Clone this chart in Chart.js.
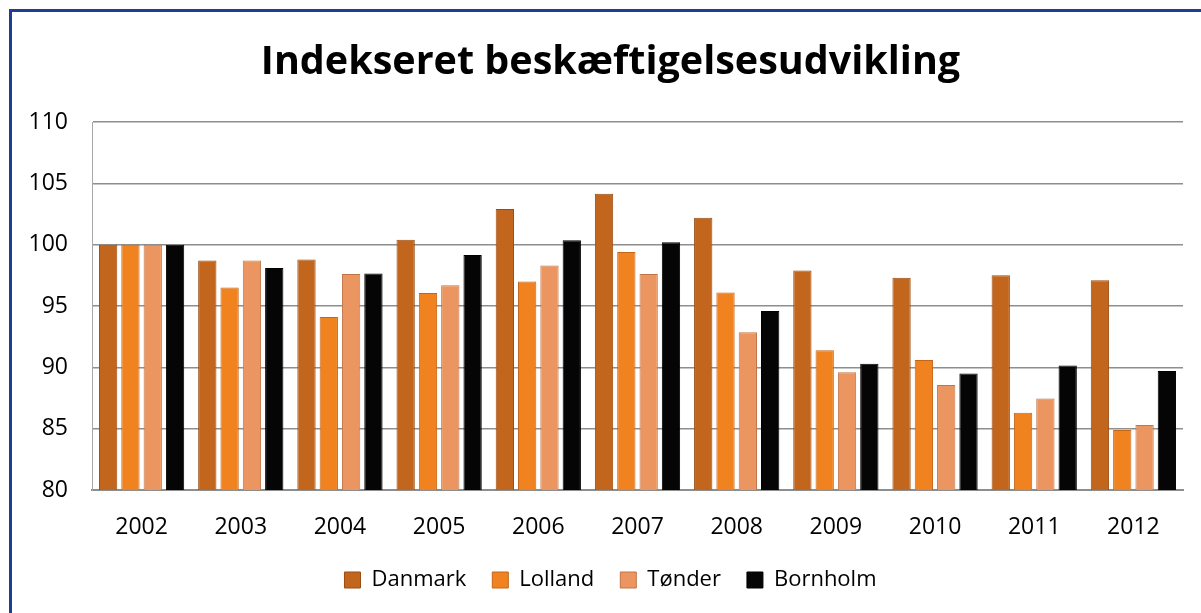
<!DOCTYPE html>
<html lang="da">
<head>
<meta charset="UTF-8">
<title>Indekseret beskæftigelsesudvikling</title>
<script src="https://cdn.jsdelivr.net/npm/chart.js"></script>
<style>
    html, body { margin: 0; padding: 0; background: #fff; overflow: hidden; }
    #frame { position: absolute; left: 9px; top: 9px; width: 1300px; height: 700px;
             border-left: 3px solid #1f3d96; border-top: 3px solid #1f3d96; }
    #wrap { position: absolute; left: 0; top: 0; width: 1201px; height: 613px; }
</style>
</head>
<body>
<div id="frame"></div>
<div id="wrap"><canvas id="myChart"></canvas></div>
<script>
    const years = ['2002', '2003', '2004', '2005', '2006', '2007', '2008', '2009', '2010', '2011', '2012'];
    const danmark  = [100, 98.7, 98.8, 100.4, 102.9, 104.15, 102.2, 97.9, 97.3, 97.5, 97.1];
    const lolland  = [100, 96.5, 94.1, 96.05, 97.0, 99.4, 96.1, 91.4, 90.6, 86.3, 84.9];
    const toender  = [100, 98.7, 97.6, 96.7, 98.3, 97.6, 92.85, 89.6, 88.55, 87.45, 85.3];
    const bornholm = [100, 98.1, 97.65, 99.15, 100.35, 100.2, 94.6, 90.3, 89.5, 90.15, 89.7];

    const font = "'Open Sans', sans-serif";

    function series(label, values, fill, edge) {
        return {
            label: label,
            data: values,
            backgroundColor: fill,
            borderColor: edge,
            borderWidth: 1,
            categoryPercentage: 0.9,
            barPercentage: 0.82
        };
    }

    const ctx = document.getElementById('myChart').getContext('2d');
    new Chart(ctx, {
        type: 'bar',
        data: {
            labels: years,
            datasets: [
                series('Danmark', danmark, '#c3661d', '#9a4d12'),
                series('Lolland', lolland, '#f0831f', '#c4661a'),
                series('Tønder', toender, '#eb9660', '#c07548'),
                series('Bornholm', bornholm, '#050505', '#000000')
            ]
        },
        options: {
            responsive: true,
            maintainAspectRatio: false,
            animation: false,
            layout: { padding: { left: 20, right: 0, top: 39, bottom: 20 } },
            plugins: {
                title: {
                    display: true,
                    text: 'Indekseret beskæftigelsesudvikling',
                    color: '#000',
                    font: { family: font, size: 39.5, weight: 'bold' },
                    padding: { top: 0, bottom: 35.6 }
                },
                legend: {
                    position: 'bottom',
                    maxHeight: 50,
                    labels: {
                        color: '#000',
                        font: { family: font, size: 22 },
                        boxWidth: 16,
                        boxHeight: 16,
                        padding: 26
                    }
                },
                tooltip: { enabled: false }
            },
            scales: {
                x: {
                    grid: { display: false },
                    border: { display: true, color: '#8e8e8e', width: 2 },
                    ticks: { color: '#000', font: { family: font, size: 23 }, padding: 16 },
                    afterFit: function (s) { s.height = 53; }
                },
                y: {
                    min: 80,
                    max: 110,
                    ticks: { stepSize: 5, color: '#000', font: { family: font, size: 23 }, padding: 24 },
                    grid: { color: '#8e8e8e', lineWidth: 1.5, drawTicks: false },
                    border: { display: true, color: '#a8a8a8', width: 1 },
                    afterFit: function (s) { s.width = 72; }
                },
                // empty right-hand strip so title and legend centre like the original
                spacer: {
                    type: 'linear',
                    position: 'right',
                    ticks: { display: false },
                    grid: { display: false },
                    border: { display: false },
                    afterFit: function (s) { s.width = 18; }
                }
            }
        }
    });
</script>
</body>
</html>
